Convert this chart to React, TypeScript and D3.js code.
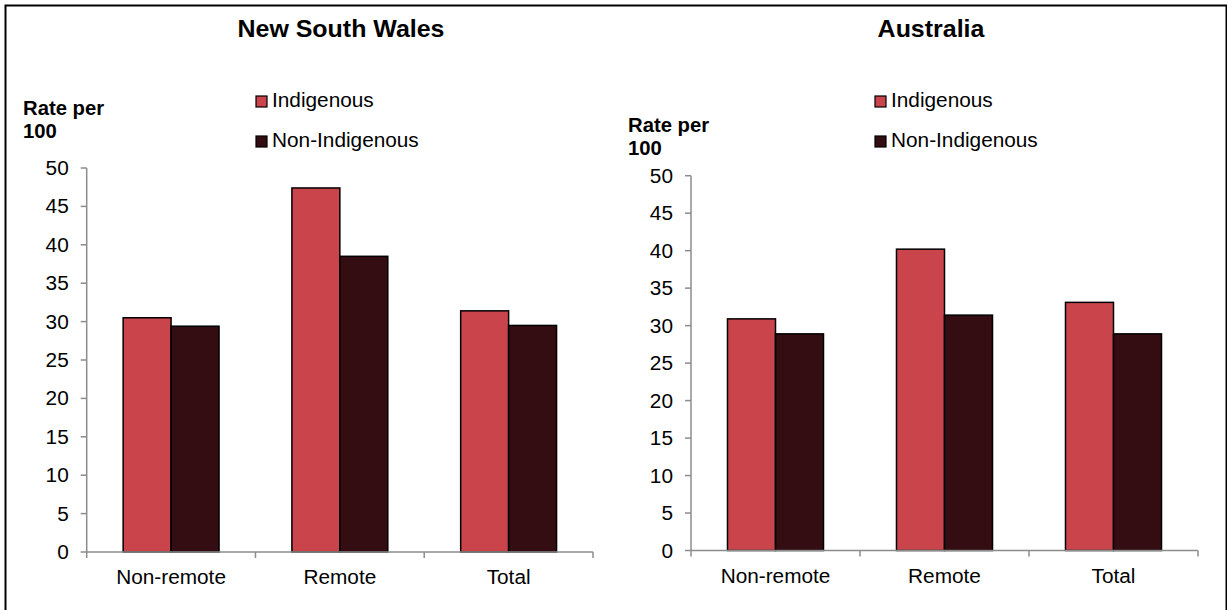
import React from "react";
import * as d3 from "d3";

const categories = ["Non-remote", "Remote", "Total"];
const seriesNames = ["Indigenous", "Non-Indigenous"];
const seriesColors = ["#c9454b", "#330d12"];
const nswIndigenous = [30.5, 47.4, 31.4];
const nswNonIndigenous = [29.4, 38.5, 29.5];
const ausIndigenous = [30.9, 40.2, 33.1];
const ausNonIndigenous = [28.9, 31.4, 28.9];
const yTicks = [0, 5, 10, 15, 20, 25, 30, 35, 40, 45, 50];

const W = 1227;
const H = 610;
const FONT = "'Liberation Sans', Arial, sans-serif";
const SX = 1.04;

type TProps = {
  x: number;
  y: number;
  size: number;
  bold?: boolean;
  anchor?: "start" | "middle" | "end";
  children: React.ReactNode;
};

// source text looks slightly wide, so stretch it a touch
function T({ x, y, size, bold, anchor = "start", children }: TProps) {
  return (
    <text
      transform={`translate(${x},${y}) scale(${SX},1)`}
      fontFamily={FONT}
      fontSize={size}
      fontWeight={bold ? 700 : 400}
      textAnchor={anchor}
      fill="#000"
    >
      {children}
    </text>
  );
}

type PanelProps = {
  title: string;
  titleX: number;
  values: number[][];
  left: number;
  right: number;
  top: number;
  bottom: number;
  legendX: number;
  rateX: number;
  rateY: number;
};

function Panel({ title, titleX, values, left, right, top, bottom, legendX, rateX, rateY }: PanelProps) {
  const x0 = d3.scaleBand<string>().domain(categories).range([left, right]).padding(0);
  const x1 = d3
    .scaleBand<string>()
    .domain(seriesNames)
    .range([0, x0.bandwidth()])
    .paddingInner(0)
    .paddingOuter(0.76);
  const y = d3.scaleLinear().domain([0, 50]).range([bottom, top]);
  const axisColor = "#8c8c8c";

  return (
    <g>
      <T x={titleX} y={37} size={24} bold anchor="middle">
        {title}
      </T>

      <T x={rateX} y={rateY} size={19.5} bold>
        Rate per
      </T>
      <T x={rateX} y={rateY + 23} size={19.5} bold>
        100
      </T>

      {seriesNames.map((s, i) => (
        <g key={s}>
          <rect
            x={legendX}
            y={96 + i * 40}
            width={11}
            height={11}
            fill={seriesColors[i]}
            stroke="#000"
            strokeWidth={1.2}
          />
          <T x={legendX + 16} y={107 + i * 40} size={20}>
            {s}
          </T>
        </g>
      ))}

      {/* bars */}
      {categories.map((c, ci) =>
        seriesNames.map((s, si) => {
          const v = values[si][ci];
          return (
            <rect
              key={c + s}
              x={(x0(c) ?? 0) + (x1(s) ?? 0)}
              y={y(v)}
              width={x1.bandwidth()}
              height={bottom - y(v)}
              fill={seriesColors[si]}
              stroke="#000"
              strokeWidth={1.5}
            />
          );
        })
      )}

      {/* y axis */}
      <line x1={left} x2={left} y1={top} y2={bottom} stroke={axisColor} strokeWidth={1.5} />
      {yTicks.map((t) => (
        <g key={t}>
          <line x1={left - 6} x2={left} y1={y(t)} y2={y(t)} stroke={axisColor} strokeWidth={1.5} />
          <T x={left - 18} y={y(t) + 7} size={20} anchor="end">
            {t}
          </T>
        </g>
      ))}

      {/* x axis */}
      <line x1={left} x2={right} y1={bottom} y2={bottom} stroke={axisColor} strokeWidth={1.5} />
      {[...categories.map((c) => x0(c) ?? 0), right].map((bx, i) => (
        <line key={i} x1={bx} x2={bx} y1={bottom} y2={bottom + 6} stroke={axisColor} strokeWidth={1.5} />
      ))}
      {categories.map((c) => (
        <T key={c} x={(x0(c) ?? 0) + x0.bandwidth() / 2} y={bottom + 32} size={20} anchor="middle">
          {c}
        </T>
      ))}
    </g>
  );
}

export default function App() {
  return (
    <div style={{ position: "absolute", left: 0, top: 0, width: W, height: H, background: "#fff" }}>
      <svg width={W} height={H} style={{ display: "block" }}>
        <rect x={0} y={0} width={W} height={H} fill="#fff" />
        <rect x={5.5} y={5.5} width={1221} height={620} fill="none" stroke="#000" strokeWidth={2} />
        <Panel
          title="New South Wales"
          titleX={341}
          values={[nswIndigenous, nswNonIndigenous]}
          left={86.7}
          right={593}
          top={168}
          bottom={552}
          legendX={256}
          rateX={23}
          rateY={115}
        />
        <Panel
          title="Australia"
          titleX={931}
          values={[ausIndigenous, ausNonIndigenous]}
          left={691}
          right={1198}
          top={175.7}
          bottom={550.5}
          legendX={875}
          rateX={628}
          rateY={132}
        />
      </svg>
    </div>
  );
}
